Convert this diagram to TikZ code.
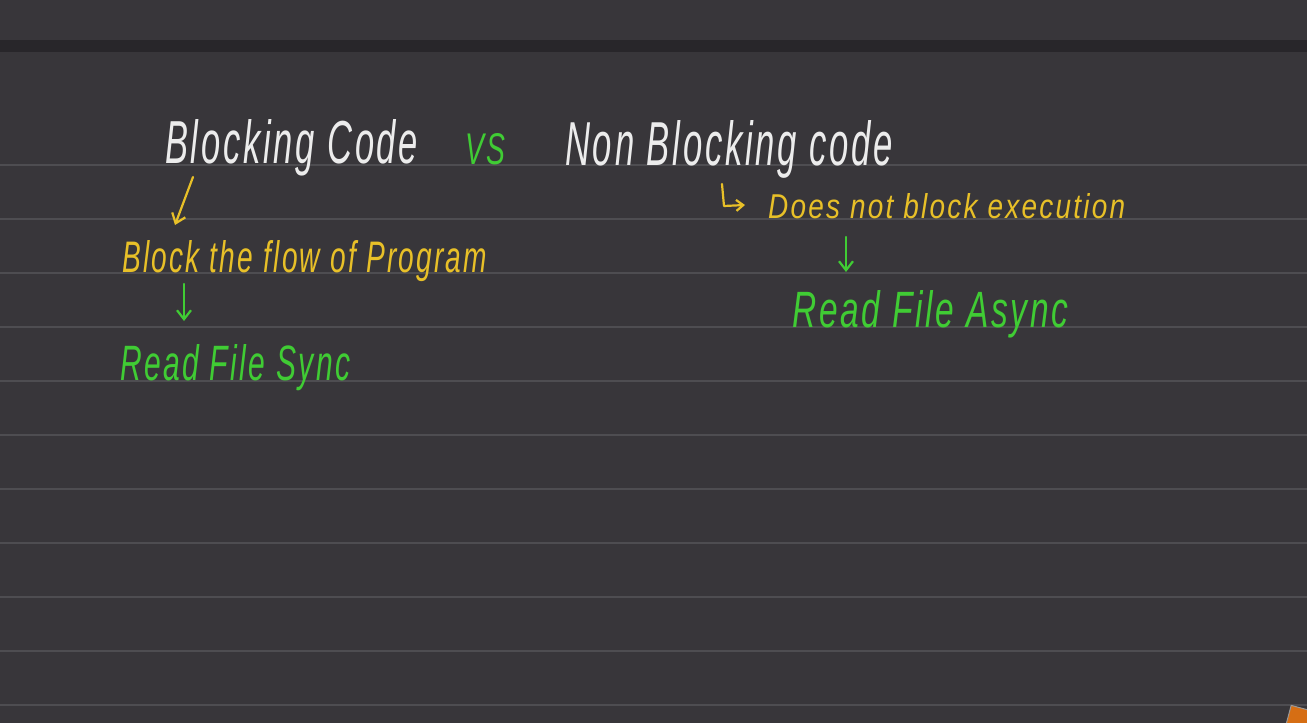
\documentclass[tikz,border=0pt]{standalone}
\usepackage{fontspec}
\setmainfont{Liberation Sans}[LetterSpace=8]
\usetikzlibrary{arrows.meta}
\definecolor{bg}{RGB}{56,54,58}
\definecolor{band}{RGB}{40,38,42}
\definecolor{rule}{RGB}{78,77,81}
\definecolor{chalk}{RGB}{236,236,236}
\definecolor{ylw}{RGB}{232,192,40}
\definecolor{grn}{RGB}{64,204,52}
\definecolor{orng}{RGB}{214,110,20}
\newcommand\fitt[3]{\resizebox{#1pt}{#2pt}{\itshape #3}}
\tikzset{
  hw/.style={inner sep=0pt, anchor=base west},
  white text/.style={hw, text=chalk},
  yellow text/.style={hw, text=ylw},
  green text/.style={hw, text=grn},
  pen/.style={line width=2.2pt, line cap=round, line join=round, -{Straight Barb[length=9pt,width=14pt,line width=2.2pt]}},
  ruled/.style={draw=rule, line width=1.5pt}
}
\begin{document}
\begin{tikzpicture}[x=1pt,y=-1pt]
\useasboundingbox (0,0) rectangle (1307,723);
\fill[bg] (0,0) rectangle (1307,723);
\fill[band] (0,40) rectangle (1307,52);
\foreach \yy in {165,219,273,327,381,435,489,543,597,651,705}
  \draw[ruled] (0,\yy) -- (1307,\yy);

% texts
\node[white text] (bc) at (165,163) {\fitt{253}{44}{Blocking Code}};
\node[green text] (vs) at (465,164) {\fitt{40}{31}{VS}};
\node[white text] (nbc) at (565,165) {\fitt{328}{45}{Non Blocking code}};
\node[yellow text] (bfp) at (122,272) {\fitt{365}{32}{Block the flow of Program}};
\node[green text] (rfs) at (120,380) {\fitt{230}{36}{Read File Sync}};
\node[yellow text] (dnb) at (768,218) {\fitt{357}{25}{Does not block execution}};
\node[green text] (rfa) at (792,327) {\fitt{276}{37}{Read File Async}};

% connector ends
\coordinate (a1s) at (193,177);
\coordinate (a1e) at (175,225);
\coordinate (a2s) at (184,284);
\coordinate (a2e) at (184,321);
\coordinate (h0) at (722,184);
\coordinate (h1) at (724,206);
\coordinate (h2) at (745,205);
\coordinate (a3s) at (846,237);
\coordinate (a3e) at (846,272);

\draw[pen, draw=ylw] (a1s) -- (a1e);
\draw[pen, draw=grn] (a2s) -- (a2e);
\draw[pen, draw=ylw, -{Straight Barb[length=7pt,width=11pt,line width=2.2pt]}] (h0) -- (h1) -- (h2);
\draw[pen, draw=grn] (a3s) -- (a3e);

% corner icon
\begin{scope}
\clip (0,0) rectangle (1307,723);
\filldraw[fill=orng, draw=gray!80, line width=1pt, rotate around={-15:(1300,715)}] (1289,708) rectangle (1320,735);
\end{scope}
\end{tikzpicture}
\end{document}
